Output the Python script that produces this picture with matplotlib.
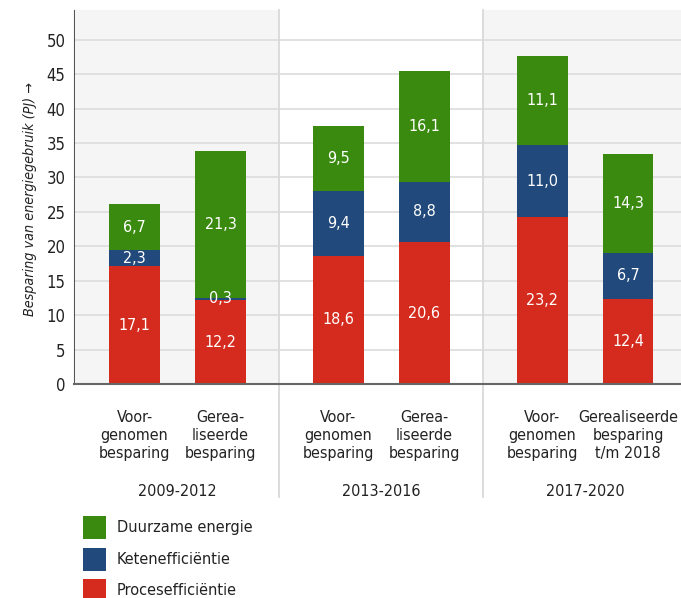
import matplotlib.pyplot as plt
import matplotlib.transforms as mtransforms
from matplotlib.patches import Rectangle

# data
periods = ['2009-2012', '2013-2016', '2017-2020']
bar_names = ['Voor-\ngenomen\nbesparing', 'Gerea-\nliseerde\nbesparing',
             'Voor-\ngenomen\nbesparing', 'Gerea-\nliseerde\nbesparing',
             'Voor-\ngenomen\nbesparing', 'Gerealiseerde\nbesparing\nt/m 2018']
series = ['Procesefficiëntie', 'Ketenefficiëntie', 'Duurzame energie']
proces = [17.1, 12.2, 18.6, 20.6, 24.2, 12.4]
keten = [2.3, 0.3, 9.4, 8.8, 10.5, 6.7]
duurzaam = [6.7, 21.3, 9.5, 16.1, 12.9, 14.3]
proces_lbl = ['17,1', '12,2', '18,6', '20,6', '23,2', '12,4']
keten_lbl = ['2,3', '0,3', '9,4', '8,8', '11,0', '6,7']
duurzaam_lbl = ['6,7', '21,3', '9,5', '16,1', '11,1', '14,3']
colors = ['#d52b1e', '#21497b', '#3b8a10']

plt.rcParams['font.family'] = ['DejaVu Sans']
plt.rcParams['font.stretch'] = 'condensed'

W, H = 681, 598
fig = plt.figure(figsize=(W / 100, H / 100), dpi=100)
ax_left, ax_right, ax_bot, ax_top = 74, 681, 384, 9.5
ax = fig.add_axes([ax_left / W, 1 - ax_bot / H, (ax_right - ax_left) / W, (ax_bot - ax_top) / H])
axh = ax_bot - ax_top

offset = 0.211
xs = []
for g in range(len(periods)):
    xs += [g - offset, g + offset]

# shaded panels for first and last period
for g in (0, 2):
    ax.axvspan(g - 0.5, g + 0.5, color='#f5f5f5', zorder=0, lw=0)

bottom = [0] * len(xs)
for vals, lbls, col in zip([proces, keten, duurzaam],
                           [proces_lbl, keten_lbl, duurzaam_lbl], colors):
    ax.bar(xs, vals, width=0.25, bottom=bottom, color=col, zorder=3, lw=0)
    for x, b, v, t in zip(xs, bottom, vals, lbls):
        ax.text(x, b + v / 2, t, ha='center', va='center', color='white',
                fontsize=11.5, zorder=4)
    bottom = [b + v for b, v in zip(bottom, vals)]

ax.set_xlim(-0.508, 2.471)
ax.set_ylim(0, 54.4)
ax.set_yticks(range(0, 51, 5))
ax.set_xticks([])
ax.grid(axis='y', color='#dcdcdc', lw=1.2, zorder=1)
ax.tick_params(axis='y', length=0, pad=6, labelsize=12, colors='#222222')
for s in ('top', 'right'):
    ax.spines[s].set_visible(False)
ax.spines['left'].set_color('#555555')
ax.spines['left'].set_linewidth(0.8)
ax.spines['bottom'].set_color('#666666')
ax.spines['bottom'].set_linewidth(1.5)
ax.spines['bottom'].set_zorder(5)
ax.set_facecolor('white')

# separators between periods
for g in (0.5, 1.5):
    ax.axvline(g, ymin=(ax_bot - 497) / axh, ymax=1, color='#d9d9d9', lw=1.3,
               clip_on=False, zorder=2)

ax.text((30 - ax_left) / (ax_right - ax_left), (ax_bot - 199.5) / axh,
        'Besparing van energiegebruik (PJ) →', transform=ax.transAxes,
        rotation=90, ha='center', va='center', fontstyle='italic',
        fontsize=10.3, color='#222222')

trans = mtransforms.blended_transform_factory(ax.transData, ax.transAxes)
for x, name in zip(xs, bar_names):
    ax.text(x, (ax_bot - 410) / axh, name, transform=trans, ha='center', va='top',
            fontsize=11.5, color='#222222', linespacing=1.25)
for g, p in enumerate(periods):
    ax.text(g, (ax_bot - 492) / axh, p, transform=trans, ha='center', va='center',
            fontsize=11.5, color='#222222')

# legend
for i, (name, col) in enumerate(zip(series[::-1], colors[::-1])):
    yc = 527.5 + i * 31.5
    fig.add_artist(Rectangle((83 / W, 1 - (yc + 11.5) / H), 23 / W, 23 / H,
                             transform=fig.transFigure, color=col, lw=0))
    fig.text(117 / W, 1 - yc / H, name, ha='left', va='center', fontsize=11.7,
             color='#222222')

fig.savefig('out.png', dpi=100)
